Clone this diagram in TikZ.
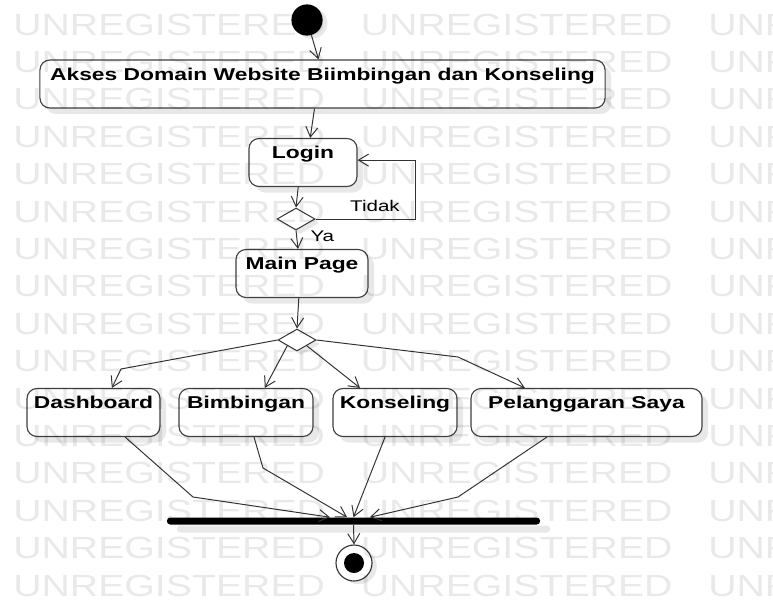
\documentclass[tikz,border=0pt]{standalone}
\usepackage{fontspec}
\usetikzlibrary{arrows.meta,shapes.geometric,shadows}

\newfontfamily\umlfont{Liberation Sans}[FakeStretch=1.33]
\newfontfamily\wmfont{Liberation Sans}[FakeStretch=1.28]

\tikzset{
  act/.style={draw=black!75, line width=0.8pt, rounded corners=0.25cm, fill=white,
    text height=0.3cm, text depth=0.5cm, inner ysep=0.2cm, inner xsep=0pt,
    font=\umlfont\bfseries\fontsize{12.2}{14}\selectfont,
    drop shadow={shadow xshift=0.15cm, shadow yshift=-0.15cm, fill=black!9, opacity=1}},
  decision/.style={diamond, draw=black!80, line width=0.7pt, fill=white, inner sep=0pt,
    minimum width=0.95cm, minimum height=0.55cm,
    drop shadow={shadow xshift=0.1cm, shadow yshift=-0.1cm, fill=black!9, opacity=1}},
  flow/.style={draw=black!80, line width=0.7pt, -{Straight Barb[length=0.25cm, width=0.3cm]}},
  lbl/.style={font=\umlfont\fontsize{11}{13}\selectfont, inner sep=1pt},
  wm/.style={anchor=base west, inner sep=0pt, text=black, text opacity=0.085,
    font=\wmfont\fontsize{21.8}{24}\selectfont}
}

\begin{document}
\begin{tikzpicture}[x=0.025cm, y=-0.025cm]

    % --- Canvas, sized as the reference (773 x 599 px) ---
    \useasboundingbox (0,0) rectangle (773,599);

    % --- Initial state ---
    \node[circle, fill=black, minimum size=0.78cm, inner sep=0pt,
      drop shadow={shadow xshift=0.12cm, shadow yshift=-0.08cm, fill=black!9, opacity=1}]
      (start) at (307,20) {};

    % --- Activities ---
    \node[act, minimum width=14.125cm] (akses) at (322.5,84) {Akses Domain Website Biimbingan dan Konseling};
    \node[act, minimum width=2.7cm] (login) at (303,162.5) {Login};
    \node[decision] (dec1) at (296,219) {};
    \node[act, minimum width=3.3cm] (main) at (302,273.5) {Main Page};
    \node[decision] (dec2) at (297,340) {};

    % Menu row
    \node[act, minimum width=3.325cm] (dash) at (93.5,412.5) {Dashboard};
    \node[act, minimum width=3.35cm] (bimb) at (246,412.5) {Bimbingan};
    \node[act, minimum width=3.1cm] (kons) at (395,412.5) {Konseling};
    \node[act, minimum width=5.775cm] (pel) at (586.5,412.5) {Pelanggaran Saya};

    % --- Join bar and final state ---
    \node[fill=black, minimum width=9.325cm, minimum height=0.175cm, inner sep=0pt,
      rounded corners=0.08cm,
      drop shadow={shadow xshift=0.25cm, shadow yshift=-0.2cm, fill=black!9, opacity=1}]
      (bar) at (353.5,521) {};
    \node[circle, draw=black!80, line width=0.8pt, fill=white, minimum size=0.9cm, inner sep=0pt,
      path picture={\fill[black] (path picture bounding box.center) circle (0.25cm);},
      drop shadow={shadow xshift=0.12cm, shadow yshift=-0.08cm, fill=black!9, opacity=1}]
      (end) at (354,563) {};

    % --- Bend points ---
    \coordinate (loop) at (415,219);
    \coordinate (b1) at (121,369);
    \coordinate (b2) at (458,357);
    \coordinate (b3) at (193,497);
    \coordinate (b4) at (263,468);
    \coordinate (b5) at (458,497);

    % --- Flows, top part ---
    \draw[flow] (start) -- ([xshift=-0.1cm]akses.north);
    \draw[flow] ([xshift=-0.2cm]akses.south) -- ([xshift=0.18cm]login.north);
    \draw[flow] ([xshift=-0.12cm]login.south) -- (dec1.north);
    \draw[flow] (dec1.south) -- node[lbl, right, pos=0.3, xshift=0.3cm] (ya) {Ya} ([xshift=-0.1cm]main.north);
    \draw[flow] (dec1.east) -- (loop) |- ([yshift=0.06cm]login.east);
    \node[lbl] (tidak) at (375,206) {Tidak};
    \draw[flow] ([xshift=-0.08cm]main.south) -- (dec2.north);

    % --- Branches to the menu ---
    \draw[flow] (dec2.west) -- (b1) -- ([xshift=0.46cm]dash.north);
    \draw[flow] (dec2.south west) -- ([xshift=0.47cm]bimb.north);
    \draw[flow] (dec2.south east) -- ([xshift=-0.875cm]kons.north);
    \draw[flow] (dec2.east) -- (b2) -- ([xshift=-1.54cm]pel.north);

    % --- Into the join bar ---
    \draw[flow] ([xshift=0.79cm]dash.south) -- (b3) -- ([xshift=-0.59cm]bar.north);
    \draw[flow] ([xshift=0.2cm]bimb.south) -- (b4) -- ([xshift=-0.16cm]bar.north);
    \draw[flow] ([xshift=-0.25cm]kons.south) -- (bar.north);
    \draw[flow] ([xshift=-0.99cm]pel.south) -- (b5) -- ([xshift=0.41cm]bar.north);
    \draw[flow] (bar.south) -- (end.north);

    % --- Watermark rows, laid over the whole sheet ---
    \begin{scope}
      \clip (0,0) rectangle (773,599);
      \foreach \k in {0,...,15} {
        \foreach \j in {0,1,2} {
          \node[wm] (wm-\k-\j) at (13+347.5*\j, 35+37.4*\k) {UNREGISTERED};
        }
      }
    \end{scope}

\end{tikzpicture}
\end{document}
